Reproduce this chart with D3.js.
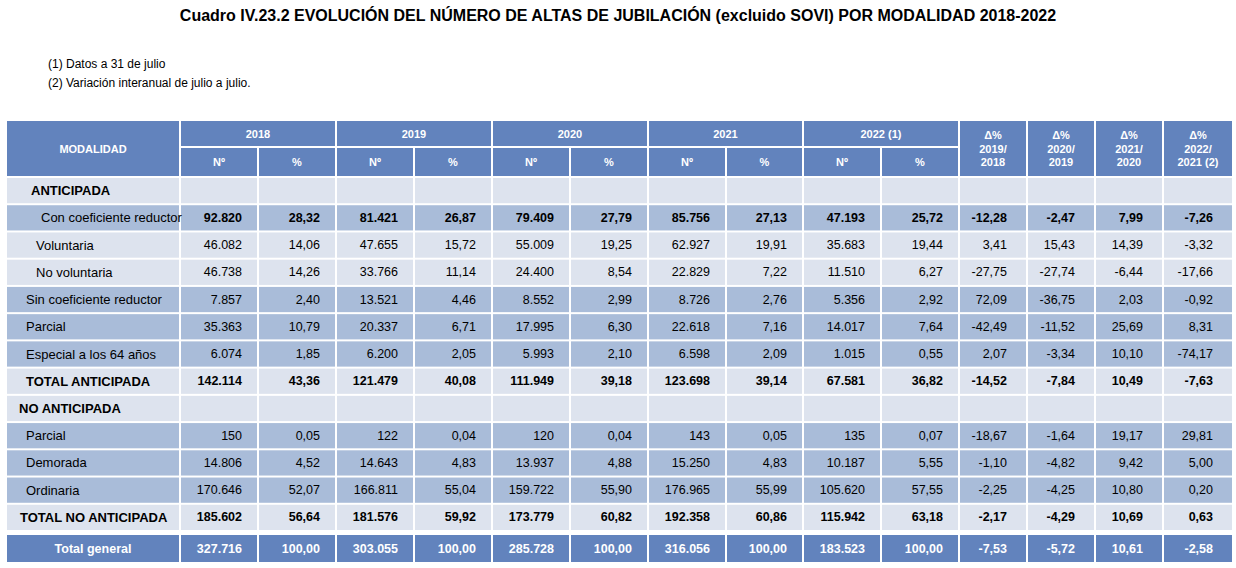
<!DOCTYPE html>
<html><head><meta charset="utf-8">
<script src="https://cdn.jsdelivr.net/npm/d3@7"></script>
<style>body{margin:0;background:#fff}svg{font-family:"Liberation Sans",Arial,sans-serif}</style>
</head><body><svg id="c" width="1236" height="568"></svg>
<script>
const years = ["2018","2019","2020","2021","2022 (1)"];
const deltaHeaders = [["Δ%","2019/","2018"],["Δ%","2020/","2019"],["Δ%","2021/","2020"],["Δ%","2022/","2021 (2)"]];
const rowLabels = ["ANTICIPADA","Con coeficiente reductor","Voluntaria","No voluntaria","Sin coeficiente reductor","Parcial","Especial a los 64 años","TOTAL ANTICIPADA","NO ANTICIPADA","Parcial","Demorada","Ordinaria","TOTAL NO ANTICIPADA","Total general"];
const rowTypes = ["section","boldmid","light","light","mid","mid","mid","total","section","mid","mid","mid","total","grand"];
const rowIndent = [25,35,30,30,20,20,20,20,13,20,20,20,14,0];
const values = [
 null,
 ["92.820","28,32","81.421","26,87","79.409","27,79","85.756","27,13","47.193","25,72","-12,28","-2,47","7,99","-7,26"],
 ["46.082","14,06","47.655","15,72","55.009","19,25","62.927","19,91","35.683","19,44","3,41","15,43","14,39","-3,32"],
 ["46.738","14,26","33.766","11,14","24.400","8,54","22.829","7,22","11.510","6,27","-27,75","-27,74","-6,44","-17,66"],
 ["7.857","2,40","13.521","4,46","8.552","2,99","8.726","2,76","5.356","2,92","72,09","-36,75","2,03","-0,92"],
 ["35.363","10,79","20.337","6,71","17.995","6,30","22.618","7,16","14.017","7,64","-42,49","-11,52","25,69","8,31"],
 ["6.074","1,85","6.200","2,05","5.993","2,10","6.598","2,09","1.015","0,55","2,07","-3,34","10,10","-74,17"],
 ["142.114","43,36","121.479","40,08","111.949","39,18","123.698","39,14","67.581","36,82","-14,52","-7,84","10,49","-7,63"],
 null,
 ["150","0,05","122","0,04","120","0,04","143","0,05","135","0,07","-18,67","-1,64","19,17","29,81"],
 ["14.806","4,52","14.643","4,83","13.937","4,88","15.250","4,83","10.187","5,55","-1,10","-4,82","9,42","5,00"],
 ["170.646","52,07","166.811","55,04","159.722","55,90","176.965","55,99","105.620","57,55","-2,25","-4,25","10,80","0,20"],
 ["185.602","56,64","181.576","59,92","173.779","60,82","192.358","60,86","115.942","63,18","-2,17","-4,29","10,69","0,63"],
 ["327.716","100,00","303.055","100,00","285.728","100,00","316.056","100,00","183.523","100,00","-7,53","-5,72","10,61","-2,58"]
];
const cols = [6,180,258,336,414,492,570,648,726,803,881,959,1027,1095,1163,1233];
const C = {dark:"#6283bd", mid:"#a9bcd9", light:"#dde3ee"};
const svg = d3.select("#c");
svg.append("text").attr("x",618).attr("y",21).attr("text-anchor","middle").attr("font-weight","bold").attr("font-size",16).text("Cuadro IV.23.2 EVOLUCIÓN DEL NÚMERO DE ALTAS DE JUBILACIÓN (excluido SOVI) POR MODALIDAD 2018-2022");
svg.append("text").attr("x",48).attr("y",68).attr("font-size",12).text("(1) Datos a 31 de julio");
svg.append("text").attr("x",48).attr("y",87).attr("font-size",12).text("(2) Variación interanual de julio a julio.");
const g=1;
function cell(x0,x1,y0,y1,fill){svg.append("rect").attr("x",x0+g).attr("y",y0+g).attr("width",x1-x0-2*g).attr("height",y1-y0-2*g).attr("fill",fill);}
function txt(x,y,s,o){return svg.append("text").attr("x",x).attr("y",y).attr("font-size",o.size||12.5).attr("text-anchor",o.anchor||"start").attr("dominant-baseline","central").attr("fill",o.fill||"#000").attr("font-weight",o.bold?"bold":"normal").text(s);}
cell(cols[0],cols[1],120,177,C.dark);
txt((cols[0]+cols[1])/2,149,"MODALIDAD",{size:11,bold:1,fill:"#fff",anchor:"middle"});
years.forEach((y,i)=>{
  const a=cols[1+2*i],b=cols[3+2*i];
  cell(a,b,120,147,C.dark);
  txt((a+b)/2,133.5,y,{size:11,bold:1,fill:"#fff",anchor:"middle"});
  ["Nº","%"].forEach((s,j)=>{const x0=cols[1+2*i+j],x1=cols[2+2*i+j];cell(x0,x1,147,177,C.dark);txt((x0+x1)/2,162,s,{size:11,bold:1,fill:"#fff",anchor:"middle"});});
});
deltaHeaders.forEach((h,i)=>{
  const a=cols[11+i],b=cols[12+i];cell(a,b,120,177,C.dark);
  h.forEach((s,k)=>txt((a+b)/2,135+k*13.5,s,{size:11,bold:1,fill:"#fff",anchor:"middle"}));
});
const yRow=d3.scaleBand().domain(d3.range(13)).range([177,531]);
rowLabels.forEach((lab,r)=>{
  const t=rowTypes[r];
  let y0,y1;
  if(r<13){y0=yRow(r);y1=y0+yRow.bandwidth();}else{y0=534;y1=563;}
  const fill=t==="grand"?C.dark:(t==="mid"||t==="boldmid")?C.mid:C.light;
  const bold=t!=="mid"&&t!=="light";
  const labBold=bold&&t!=="boldmid";
  const fc=t==="grand"?"#fff":"#000";
  const ym=(y0+y1)/2;
  for(let c=0;c<15;c++) cell(cols[c],cols[c+1],y0,y1,fill);
  if(t==="grand") txt((cols[0]+cols[1])/2,ym,lab,{bold:1,fill:fc,anchor:"middle"});
  else txt(cols[0]+rowIndent[r],ym,lab,{bold:labBold,fill:fc,size:13});
  const v=values[r]; if(!v) return;
  v.forEach((s,c)=>{const pad=c<10?16:20;txt(cols[c+2]-pad,ym,s,{bold:bold,fill:fc,anchor:"end"});});
});
</script></body></html>
